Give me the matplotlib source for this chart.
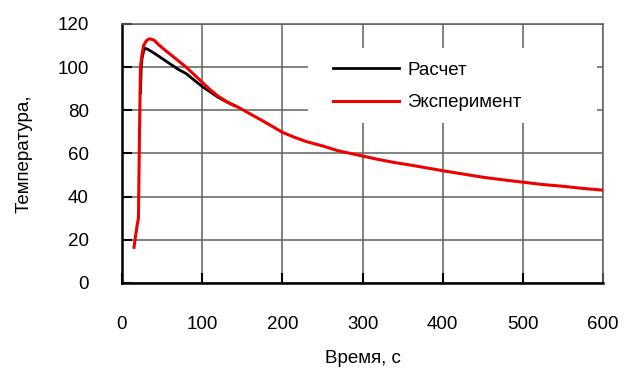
import matplotlib
matplotlib.use("Agg")
import matplotlib.pyplot as plt
from matplotlib.patches import Rectangle

# Calculated temperature curve
calc_time = [23, 24, 25, 27, 29, 32, 40, 50, 60, 70, 80, 90, 100, 110, 120, 130, 140]
calc_temp = [88, 100, 104, 107.5, 108.7, 108.3, 106.5, 104, 101.5, 99, 97, 94, 91, 88.5, 86, 84, 82.3]

# Measured temperature curve
exp_time = [15, 17, 19, 20.5, 21.5, 23, 25, 27, 30, 33, 36, 40, 44, 50, 60, 70, 80, 90,
            100, 110, 120, 135, 145, 160, 175, 190, 200, 215, 230, 250, 270, 285, 300,
            320, 340, 360, 385, 400, 425, 450, 475, 500, 525, 550, 575, 600]
exp_temp = [16.5, 22, 27, 30, 60, 100, 106, 110, 112, 113, 113, 112.5, 111, 109, 106,
            103, 100, 96.5, 93, 89.5, 86.5, 83, 81.4, 78.3, 75.2, 72, 69.8, 67.5, 65.5,
            63.5, 61.2, 60, 58.8, 57.2, 55.8, 54.6, 53, 52, 50.5, 49, 47.8, 46.7, 45.6,
            44.8, 43.8, 43]

labels = ["Расчет", "Эксперимент"]
x_ticks = [0, 100, 200, 300, 400, 500, 600]
y_ticks = [0, 20, 40, 60, 80, 100, 120]

plt.rcParams["font.family"] = ["Liberation Sans", "DejaVu Sans"]

fig = plt.figure(figsize=(6.24, 3.69), dpi=100)
ax = fig.add_axes([0.1955, 0.2331, 0.771, 0.702])

ax.set_xlim(0, 600)
ax.set_ylim(0, 120)
ax.set_xticks(x_ticks)
ax.set_yticks(y_ticks)

ax.grid(True, color="#606060", linewidth=1.1, zorder=0)
ax.set_axisbelow(True)

for side in ("left", "bottom"):
    ax.spines[side].set_color("black")
    ax.spines[side].set_linewidth(1.8)
for side in ("top", "right"):
    ax.spines[side].set_color("#606060")
    ax.spines[side].set_linewidth(1.1)

ax.tick_params(axis="both", direction="in", length=7, width=1.5, color="black",
               labelsize=13.5)
ax.tick_params(axis="x", pad=24)
ax.tick_params(axis="y", pad=24)

# White panel behind the legend, covering the grid
ax.add_patch(Rectangle((0.387, 0.618), 0.6005, 0.289, transform=ax.transAxes,
                       facecolor="white", edgecolor="none", zorder=1))

ax.plot(calc_time, calc_temp, color="black", linewidth=2.0, label=labels[0], zorder=3)
ax.plot(exp_time, exp_temp, color="#ee0000", linewidth=2.2, label=labels[1], zorder=4)

leg = ax.legend(loc="upper left", bbox_to_anchor=(0.4387, 0.855), frameon=False,
                fontsize=13.5, handlelength=3.5, handletextpad=0.45, labelspacing=0.82,
                borderpad=0, borderaxespad=0)
leg.set_zorder(5)

ax.set_xlabel("Время, с", fontsize=13.5)
ax.xaxis.set_label_coords(0.5, -0.29)
ax.xaxis.label.set_va("center")
ax.set_ylabel("Температура,", fontsize=13.5)
ax.yaxis.set_label_coords(-0.204, 0.5)
ax.yaxis.label.set_va("center")

fig.savefig("out.png", dpi=100)
